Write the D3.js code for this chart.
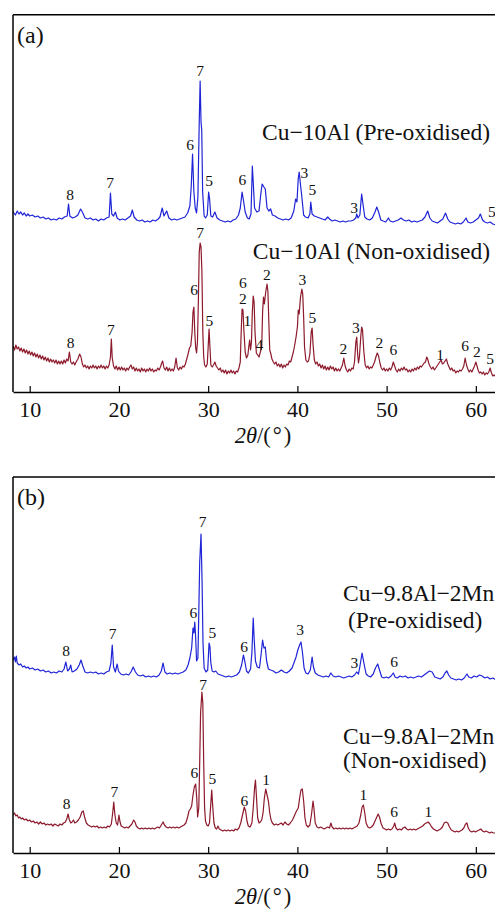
<!DOCTYPE html>
<html><head><meta charset="utf-8">
<script src="https://cdn.jsdelivr.net/npm/d3@7"></script>
<style>
html,body{margin:0;padding:0;background:#fff;}
svg{display:block;}
text{font-family:"Liberation Serif","Times New Roman",serif;fill:#111;}
</style></head>
<body>
<svg id="chart" width="495" height="909"></svg>
<script>
// ---------------- DATA ----------------
const xTicks = [10, 20, 30, 40, 50, 60];
const xTickLabels = ["10", "20", "30", "40", "50", "60"];
const panelLabels = ["(a)", "(b)"];
const sampleNames = {
  preA: ["Cu\u221210Al (Pre-oxidised)"],
  nonA: ["Cu\u221210Al (Non-oxidised)"],
  preB: ["Cu\u22129.8Al\u22122Mn", "(Pre-oxidised)"],
  nonB: ["Cu\u22129.8Al\u22122Mn", "(Non-oxidised)"]
};

// intensity (a.u.) vs 2theta, stacked as plotted
const preA = [[8.15,180],[8.4,177],[8.6,181],[8.8,178],[9.0,180],[9.2,177],[9.4,179],[9.6,176],[9.8,178],[10.0,176],[10.3,177],[10.6,175],[10.9,176],[11.2,174],[11.5,175],[11.8,173],[12.1,174],[12.4,172],[12.7,173],[13.0,172],[13.3,174],[13.6,173],[13.9,175],[14.2,176],[14.35,188],[14.5,176],[14.8,174],[15.1,175],[15.4,177],[15.7,183],[15.9,180],[16.2,174],[16.5,173],[16.8,174],[17.1,172],[17.4,173],[17.7,171],[18.0,173],[18.3,172],[18.6,174],[18.9,175],[19.05,199],[19.2,178],[19.4,176],[19.6,180],[19.8,174],[20.1,172],[20.4,173],[20.7,172],[21.0,174],[21.3,176],[21.5,182],[21.7,175],[22.0,172],[22.3,171],[22.6,172],[22.9,170],[23.2,171],[23.5,170],[23.8,172],[24.1,171],[24.4,173],[24.6,175],[24.85,184],[25.05,176],[25.35,181],[25.6,174],[25.9,172],[26.2,173],[26.5,172],[26.8,173],[27.1,174],[27.4,175],[27.7,179],[27.95,186],[28.1,205],[28.25,238],[28.4,200],[28.55,184],[28.7,179],[28.85,195],[29.0,270],[29.1,311],[29.2,270],[29.28,262],[29.38,200],[29.55,176],[29.7,174],[29.9,177],[30.05,200],[30.15,194],[30.3,176],[30.5,175],[30.75,180],[31.0,174],[31.3,172],[31.6,171],[31.9,170],[32.2,171],[32.5,170],[32.8,172],[33.1,173],[33.4,177],[33.6,184],[33.8,200],[33.95,192],[34.15,180],[34.4,174],[34.6,173],[34.8,178],[34.95,226],[35.05,210],[35.2,184],[35.45,180],[35.7,181],[35.9,198],[36.05,208],[36.25,205],[36.4,203],[36.6,184],[36.8,181],[37.0,183],[37.2,177],[37.5,176],[37.8,174],[38.1,173],[38.4,172],[38.7,173],[39.0,172],[39.3,174],[39.6,181],[39.8,193],[39.95,190],[40.1,214],[40.2,220],[40.35,207],[40.5,195],[40.7,177],[40.9,175],[41.2,174],[41.4,178],[41.5,190],[41.65,178],[41.9,176],[42.2,175],[42.5,174],[42.8,173],[43.1,172],[43.4,175],[43.6,173],[43.9,171],[44.2,172],[44.5,171],[44.8,170],[45.1,171],[45.4,170],[45.7,171],[46.0,171],[46.3,172],[46.55,174],[46.65,178],[46.8,174],[47.0,177],[47.2,198],[47.35,188],[47.55,175],[47.8,173],[48.1,172],[48.4,174],[48.7,180],[48.9,185],[49.1,180],[49.35,172],[49.6,171],[49.9,170],[50.2,174],[50.4,171],[50.7,170],[51.0,171],[51.3,172],[51.6,174],[51.9,172],[52.2,171],[52.5,172],[52.8,170],[53.1,171],[53.4,170],[53.7,171],[54.0,172],[54.3,175],[54.6,181],[54.85,174],[55.1,171],[55.4,170],[55.7,169],[56.0,171],[56.3,173],[56.6,179],[56.85,173],[57.1,170],[57.4,169],[57.7,168],[58.0,169],[58.3,168],[58.6,170],[58.9,174],[59.1,170],[59.4,169],[59.7,170],[60.0,172],[60.3,174],[60.5,178],[60.75,172],[61.0,170],[61.3,169],[61.6,170],[61.9,168],[62.3,167]];

const nonA = [[8.15,46],[8.3,42],[8.45,47],[8.6,43],[8.75,45],[8.9,41],[9.05,44],[9.2,40],[9.35,43],[9.5,39],[9.65,42],[9.8,38],[9.95,41],[10.1,37],[10.25,40],[10.4,36],[10.55,39],[10.7,35],[10.85,38],[11.0,34],[11.15,37],[11.3,33],[11.45,36],[11.6,32],[11.75,35],[11.9,31],[12.05,34],[12.2,30],[12.35,33],[12.5,30],[12.65,32],[12.8,29],[12.95,32],[13.1,28],[13.25,31],[13.4,28],[13.55,31],[13.7,28],[13.85,32],[14.0,29],[14.15,33],[14.3,31],[14.45,40],[14.6,30],[14.75,28],[14.9,30],[15.05,27],[15.2,30],[15.4,33],[15.6,38],[15.75,35],[15.9,28],[16.05,25],[16.2,27],[16.35,24],[16.5,26],[16.65,23],[16.8,26],[16.95,24],[17.1,27],[17.25,24],[17.4,26],[17.55,23],[17.7,26],[17.85,24],[18.0,27],[18.15,24],[18.3,26],[18.45,23],[18.6,26],[18.75,24],[18.9,27],[19.05,35],[19.15,53],[19.25,34],[19.4,26],[19.55,23],[19.7,26],[19.85,22],[20.0,25],[20.15,22],[20.3,25],[20.45,22],[20.6,24],[20.75,21],[20.9,24],[21.05,22],[21.2,25],[21.35,27],[21.5,23],[21.65,25],[21.8,21],[21.95,24],[22.1,21],[22.25,23],[22.4,20],[22.55,24],[22.7,21],[22.85,23],[23.0,20],[23.15,23],[23.3,21],[23.45,24],[23.6,21],[23.75,23],[23.9,20],[24.05,22],[24.2,21],[24.35,24],[24.5,22],[24.65,25],[24.8,29],[24.9,31],[25.05,24],[25.2,22],[25.35,25],[25.5,21],[25.65,24],[25.8,21],[25.95,23],[26.1,21],[26.25,25],[26.4,34],[26.55,24],[26.7,22],[26.85,25],[27.0,23],[27.15,26],[27.3,25],[27.45,28],[27.6,33],[27.75,38],[27.9,44],[28.05,46],[28.2,60],[28.3,80],[28.4,85],[28.5,60],[28.6,44],[28.7,39],[28.8,50],[28.9,90],[29.0,140],[29.1,149],[29.2,145],[29.3,120],[29.4,60],[29.5,35],[29.6,27],[29.75,25],[29.9,28],[30.0,45],[30.1,63],[30.2,45],[30.3,27],[30.45,25],[30.6,27],[30.75,30],[30.9,26],[31.05,24],[31.2,22],[31.35,24],[31.5,20],[31.65,22],[31.8,19],[31.95,22],[32.1,18],[32.25,21],[32.4,19],[32.55,22],[32.7,19],[32.85,21],[33.0,18],[33.15,21],[33.3,20],[33.45,24],[33.6,30],[33.7,60],[33.8,83],[33.9,82],[34.0,62],[34.15,40],[34.3,34],[34.45,37],[34.55,45],[34.65,52],[34.75,42],[34.85,50],[34.95,80],[35.05,96],[35.15,90],[35.25,60],[35.4,39],[35.55,37],[35.7,35],[35.85,40],[36.0,45],[36.1,80],[36.2,95],[36.3,88],[36.45,100],[36.6,108],[36.7,100],[36.8,70],[36.9,42],[37.0,39],[37.15,33],[37.3,30],[37.45,28],[37.6,30],[37.75,26],[37.9,28],[38.05,25],[38.2,28],[38.35,24],[38.5,27],[38.65,25],[38.8,28],[38.95,27],[39.1,31],[39.25,30],[39.4,35],[39.55,40],[39.7,47],[39.85,55],[40.0,65],[40.1,82],[40.2,78],[40.35,95],[40.5,103],[40.6,98],[40.7,75],[40.8,45],[40.95,32],[41.1,30],[41.25,31],[41.4,38],[41.55,60],[41.65,64],[41.75,48],[41.9,32],[42.05,28],[42.2,30],[42.35,26],[42.5,28],[42.65,24],[42.8,27],[42.95,23],[43.1,26],[43.25,22],[43.4,25],[43.55,22],[43.7,26],[43.85,23],[44.0,25],[44.15,21],[44.3,24],[44.45,21],[44.6,23],[44.75,21],[44.9,24],[45.05,27],[45.2,34],[45.35,26],[45.5,22],[45.65,20],[45.8,23],[45.95,21],[46.1,24],[46.25,23],[46.4,30],[46.55,50],[46.65,55],[46.75,38],[46.85,29],[46.95,35],[47.1,55],[47.2,65],[47.3,62],[47.45,40],[47.6,27],[47.75,24],[47.9,26],[48.05,23],[48.2,25],[48.35,24],[48.5,27],[48.65,30],[48.8,35],[48.95,39],[49.1,36],[49.25,29],[49.4,24],[49.55,22],[49.7,24],[49.85,21],[50.0,23],[50.15,21],[50.3,24],[50.45,22],[50.6,25],[50.75,30],[50.9,26],[51.05,22],[51.2,20],[51.35,23],[51.5,21],[51.65,24],[51.8,22],[51.95,25],[52.1,22],[52.25,23],[52.4,20],[52.55,22],[52.7,20],[52.85,23],[53.0,21],[53.15,24],[53.3,22],[53.45,25],[53.6,23],[53.75,26],[53.9,25],[54.05,27],[54.2,29],[54.35,30],[54.5,35],[54.6,33],[54.75,28],[54.9,25],[55.05,23],[55.2,25],[55.35,22],[55.5,24],[55.65,26],[55.8,28],[55.95,30],[56.1,32],[56.25,28],[56.4,29],[56.55,31],[56.7,33],[56.85,28],[57.0,25],[57.15,22],[57.3,24],[57.45,21],[57.6,22],[57.75,19],[57.9,21],[58.05,20],[58.2,22],[58.35,21],[58.5,23],[58.65,26],[58.8,34],[58.95,27],[59.1,23],[59.25,20],[59.4,22],[59.55,20],[59.7,23],[59.85,26],[60.0,30],[60.1,27],[60.25,22],[60.4,19],[60.55,20],[60.7,18],[60.85,20],[61.0,17],[61.15,19],[61.3,18],[61.45,20],[61.6,24],[61.75,19],[61.9,16],[62.05,17],[62.25,15]];

const preB = [[8.15,193],[8.3,196],[8.4,191],[8.5,197],[8.6,190],[8.8,188],[9.0,189],[9.2,186],[9.4,187],[9.6,185],[9.8,186],[10.0,184],[10.3,185],[10.6,183],[10.9,184],[11.2,182],[11.5,183],[11.8,181],[12.1,182],[12.4,180],[12.7,181],[13.0,180],[13.3,182],[13.6,181],[13.85,184],[14.05,191],[14.25,182],[14.45,184],[14.6,188],[14.75,181],[15.0,182],[15.3,184],[15.55,188],[15.75,193],[15.95,187],[16.2,181],[16.5,180],[16.8,181],[17.1,180],[17.4,181],[17.7,179],[18.0,180],[18.3,179],[18.6,181],[18.9,182],[19.1,190],[19.25,208],[19.4,186],[19.6,181],[19.8,189],[19.95,182],[20.2,179],[20.5,178],[20.8,179],[21.1,178],[21.35,181],[21.6,186],[21.85,181],[22.1,178],[22.4,177],[22.7,178],[23.0,176],[23.3,177],[23.6,176],[23.9,177],[24.2,176],[24.5,178],[24.75,182],[24.95,190],[25.15,181],[25.4,179],[25.7,180],[26.0,179],[26.3,180],[26.6,179],[26.9,180],[27.2,181],[27.5,183],[27.75,188],[27.95,195],[28.15,205],[28.3,225],[28.4,220],[28.5,231],[28.6,215],[28.7,192],[28.85,195],[28.95,240],[29.05,290],[29.2,319],[29.32,270],[29.42,210],[29.55,185],[29.75,181],[29.95,183],[30.1,210],[30.2,206],[30.3,190],[30.45,182],[30.65,181],[30.85,182],[31.1,179],[31.4,178],[31.7,177],[32.0,176],[32.3,177],[32.6,176],[32.9,177],[33.2,178],[33.5,181],[33.75,188],[33.95,198],[34.1,192],[34.3,182],[34.5,180],[34.75,184],[34.9,200],[35.05,235],[35.15,215],[35.3,192],[35.5,186],[35.75,185],[35.95,200],[36.1,213],[36.25,205],[36.4,206],[36.55,192],[36.75,184],[37.0,183],[37.3,182],[37.6,180],[37.9,181],[38.2,183],[38.5,181],[38.8,180],[39.1,182],[39.4,185],[39.65,191],[39.85,196],[40.05,203],[40.25,208],[40.4,211],[40.55,202],[40.75,185],[40.95,180],[41.2,179],[41.45,183],[41.65,196],[41.8,186],[42.0,180],[42.3,178],[42.6,177],[42.9,176],[43.2,177],[43.5,176],[43.75,180],[44.0,177],[44.3,176],[44.6,177],[44.9,176],[45.2,175],[45.5,176],[45.8,177],[46.1,176],[46.4,178],[46.65,181],[46.85,179],[47.05,189],[47.25,200],[47.45,190],[47.7,179],[47.95,177],[48.2,176],[48.5,179],[48.75,185],[49.0,189],[49.2,183],[49.45,176],[49.7,175],[49.95,176],[50.2,175],[50.5,177],[50.75,180],[50.95,176],[51.2,175],[51.5,177],[51.8,176],[52.1,177],[52.4,175],[52.7,176],[53.0,175],[53.3,176],[53.6,177],[53.9,176],[54.2,178],[54.5,180],[54.8,182],[55.1,181],[55.4,176],[55.7,175],[56.0,174],[56.3,176],[56.55,180],[56.75,182],[56.95,178],[57.2,175],[57.5,174],[57.8,173],[58.1,174],[58.4,173],[58.7,175],[59.0,179],[59.2,176],[59.5,175],[59.8,177],[60.1,176],[60.4,178],[60.7,177],[61.0,175],[61.3,176],[61.6,174],[61.9,175],[62.3,173]];

const nonB = [[8.15,38],[8.3,40],[8.45,37],[8.6,38],[8.75,35],[8.9,36],[9.05,34],[9.2,35],[9.4,33],[9.6,34],[9.8,32],[10.0,33],[10.2,31],[10.4,32],[10.6,30],[10.8,31],[11.0,29],[11.2,31],[11.4,29],[11.6,30],[11.8,28],[12.0,29],[12.2,28],[12.4,29],[12.6,27],[12.8,29],[13.0,28],[13.2,27],[13.4,29],[13.6,28],[13.8,30],[14.0,31],[14.15,34],[14.3,39],[14.45,33],[14.6,30],[14.75,31],[14.9,33],[15.05,30],[15.25,31],[15.45,33],[15.65,36],[15.85,41],[16.0,42],[16.15,36],[16.35,30],[16.55,28],[16.75,27],[16.95,26],[17.15,27],[17.35,26],[17.55,27],[17.75,25],[17.95,26],[18.15,25],[18.35,26],[18.55,25],[18.75,27],[18.95,26],[19.15,29],[19.3,40],[19.42,51],[19.55,38],[19.7,30],[19.85,28],[20.0,38],[20.1,32],[20.25,27],[20.45,26],[20.65,25],[20.85,26],[21.05,25],[21.25,27],[21.45,29],[21.65,33],[21.8,31],[21.95,27],[22.15,25],[22.35,24],[22.55,25],[22.75,24],[22.95,25],[23.15,24],[23.35,25],[23.55,24],[23.75,25],[23.95,24],[24.15,25],[24.35,26],[24.55,25],[24.75,28],[24.95,31],[25.1,28],[25.3,26],[25.5,25],[25.7,26],[25.9,25],[26.1,26],[26.3,25],[26.5,26],[26.7,25],[26.9,26],[27.1,27],[27.3,28],[27.5,30],[27.7,36],[27.85,42],[28.0,44],[28.15,47],[28.3,58],[28.45,66],[28.6,69],[28.72,55],[28.82,36],[28.95,45],[29.05,90],[29.15,140],[29.3,161],[29.4,150],[29.5,90],[29.6,45],[29.7,32],[29.85,28],[30.0,27],[30.15,30],[30.3,50],[30.4,63],[30.5,48],[30.65,30],[30.8,25],[30.95,24],[31.1,27],[31.25,24],[31.45,23],[31.65,22],[31.85,23],[32.05,22],[32.25,23],[32.45,22],[32.65,23],[32.85,22],[33.05,24],[33.25,23],[33.45,25],[33.65,30],[33.85,38],[34.05,46],[34.2,42],[34.35,32],[34.5,27],[34.7,26],[34.9,30],[35.05,45],[35.2,65],[35.3,73],[35.4,58],[35.55,35],[35.7,30],[35.85,31],[36.0,33],[36.15,40],[36.3,55],[36.45,64],[36.6,58],[36.75,52],[36.9,40],[37.05,33],[37.2,30],[37.4,28],[37.6,29],[37.8,28],[38.0,29],[38.2,30],[38.4,28],[38.6,31],[38.8,29],[39.0,28],[39.2,30],[39.45,33],[39.7,38],[39.9,42],[40.1,45],[40.25,55],[40.4,63],[40.55,64],[40.7,52],[40.85,35],[41.0,28],[41.2,26],[41.4,28],[41.6,40],[41.75,52],[41.85,45],[42.0,30],[42.2,26],[42.4,25],[42.6,26],[42.8,25],[43.0,24],[43.2,25],[43.4,26],[43.6,25],[43.75,30],[43.9,26],[44.1,24],[44.3,25],[44.5,24],[44.7,25],[44.9,24],[45.1,25],[45.3,24],[45.5,25],[45.7,24],[45.9,25],[46.1,24],[46.3,25],[46.5,26],[46.7,27],[46.9,30],[47.1,38],[47.25,46],[47.4,48],[47.55,40],[47.7,30],[47.9,26],[48.1,25],[48.3,26],[48.5,28],[48.7,32],[48.9,36],[49.05,39],[49.2,36],[49.4,29],[49.6,25],[49.8,24],[50.0,23],[50.2,24],[50.4,23],[50.6,24],[50.8,27],[50.9,30],[51.05,25],[51.25,23],[51.45,24],[51.65,23],[51.85,25],[52.05,26],[52.25,24],[52.45,23],[52.65,24],[52.85,23],[53.05,24],[53.25,23],[53.45,24],[53.65,25],[53.85,26],[54.05,27],[54.25,29],[54.45,30],[54.65,31],[54.85,29],[55.05,26],[55.25,24],[55.45,23],[55.65,22],[55.85,23],[56.05,24],[56.25,26],[56.45,30],[56.65,31],[56.85,30],[57.05,26],[57.25,23],[57.45,22],[57.65,21],[57.85,22],[58.05,21],[58.25,22],[58.45,23],[58.65,25],[58.85,29],[59.0,30],[59.15,25],[59.35,22],[59.55,21],[59.75,22],[59.95,21],[60.15,22],[60.35,23],[60.55,24],[60.75,22],[60.95,21],[61.15,22],[61.35,21],[61.55,20],[61.75,21],[61.95,20],[62.25,20]];

// peak phase labels: [2theta, intensity at label baseline, text]
const preAPeaks = [[14.52,192,"8"],[19.0,204,"7"],[27.97,242,"6"],[29.09,316,"7"],[30.1,206,"5"],[33.83,207,"6"],[40.79,214,"3"],[41.68,197,"5"],[46.36,179,"3"],[61.79,175,"5"]];
const nonAPeaks = [[29.09,154,"7"],[28.42,97,"6"],[30.13,66,"5"],[33.88,104,"6"],[33.88,88,"2"],[34.39,66,"1"],[35.74,42,"4"],[36.57,112,"2"],[14.6,44,"8"],[19.11,57,"7"],[40.56,107,"3"],[41.68,69,"5"],[45.16,38,"2"],[46.55,59,"3"],[49.19,44,"2"],[50.76,37,"6"],[56.0,32,"1"],[58.8,41,"6"],[60.11,35,"2"],[61.6,28,"5"]];
const preBPeaks = [[14.07,197,"8"],[19.3,214,"7"],[28.34,235,"6"],[29.39,326,"7"],[30.47,215,"5"],[34.02,201,"6"],[40.3,218,"3"],[46.39,185,"3"],[50.84,186,"6"]];
const nonBPeaks = [[29.43,163,"7"],[14.15,44,"8"],[19.48,56,"7"],[28.45,75,"6"],[30.47,69,"5"],[34.06,47,"6"],[36.49,68,"1"],[47.4,53,"1"],[50.84,36,"6"],[54.69,36,"1"]];

// ---------------- DRAW ----------------
const svg = d3.select("#chart");
const BLUE = "#1f24d6", RED = "#8d1a2c";
const FONT = '"Liberation Serif","Times New Roman",serif';

const x = d3.scaleLinear().domain([8.128, 62.37]).range([13, 497]);

const panels = [
  {label: panelLabels[0], top: 14.7, bottom: 392, ymax: 377.3,
   series: [{data: preA, color: BLUE, peaks: preAPeaks, name: sampleNames.preA, nx: 490, ny: [140], anchor: "end"},
            {data: nonA, color: RED, peaks: nonAPeaks, name: sampleNames.nonA, nx: 490, ny: [259], anchor: "end"}]},
  {label: panelLabels[1], top: 477, bottom: 853, ymax: 376,
   series: [{data: preB, color: BLUE, peaks: preBPeaks, name: sampleNames.preB, nx: 343, ny: [601, 628], anchor: "start", dx: [0, 5]},
            {data: nonB, color: RED, peaks: nonBPeaks, name: sampleNames.nonB, nx: 343, ny: [744, 768], anchor: "start", dx: [0, 0]}]}
];

panels.forEach((p, pi) => {
  const y = d3.scaleLinear().domain([0, p.ymax]).range([p.bottom, p.top]);
  const g = svg.append("g");
  const clipId = "clip" + pi;
  svg.append("clipPath").attr("id", clipId).append("rect")
    .attr("x", 13).attr("y", p.top).attr("width", 484).attr("height", p.bottom - p.top);

  const line = d3.line().x(d => x(d[0])).y(d => y(d[1]));
  p.series.forEach(s => {
    g.append("path").datum(s.data)
      .attr("clip-path", `url(#${clipId})`)
      .attr("d", line).attr("fill", "none")
      .attr("stroke", s.color).attr("stroke-width", 1.2)
      .attr("stroke-linejoin", "round");
    g.selectAll(null).data(s.peaks).enter().append("text")
      .attr("x", d => x(d[0])).attr("y", d => y(d[1]))
      .attr("text-anchor", "middle").attr("font-size", 15.5)
      .text(d => d[2]);
    s.name.forEach((t, i) => {
      g.append("text").attr("x", s.nx + (s.dx ? s.dx[i] : 0)).attr("y", s.ny[i])
        .attr("text-anchor", s.anchor).attr("font-size", 23.5).text(t);
    });
  });

  // frame: top and left
  g.append("line").attr("x1", 13).attr("x2", 497).attr("y1", p.top).attr("y2", p.top)
    .attr("stroke", "#000").attr("stroke-width", 1.5);
  g.append("line").attr("x1", 13).attr("x2", 13).attr("y1", p.top).attr("y2", p.bottom)
    .attr("stroke", "#000").attr("stroke-width", 1.5);

  // x axis with inward ticks
  const axis = d3.axisBottom(x).tickValues(xTicks)
    .tickFormat((d, i) => xTickLabels[i]).tickSizeInner(-6).tickSizeOuter(0);
  const ax = g.append("g").attr("transform", `translate(0,${p.bottom})`).call(axis);
  ax.select(".domain").attr("stroke", "#000").attr("stroke-width", 1.5);
  ax.selectAll(".tick line").attr("stroke", "#000").attr("stroke-width", 1.2);
  ax.selectAll(".tick text").attr("y", 24.5).attr("dy", 0)
    .attr("font-size", 22).attr("font-family", FONT).attr("fill", "#111");

  // axis title 2θ/(°)
  const tt = g.append("text").attr("x", 263).attr("y", p.bottom + 51)
    .attr("text-anchor", "middle").attr("font-size", 22.5);
  tt.append("tspan").attr("font-style", "italic").text("2\u03b8");
  tt.append("tspan").text("/(");
  tt.append("tspan").attr("dx", 2).text("\u00b0");
  tt.append("tspan").attr("dx", 2).text(")");

  // panel label
  g.append("text").attr("x", 17).attr("y", p.top + 28).attr("font-size", 24).text(p.label);
});
</script>
</body></html>
